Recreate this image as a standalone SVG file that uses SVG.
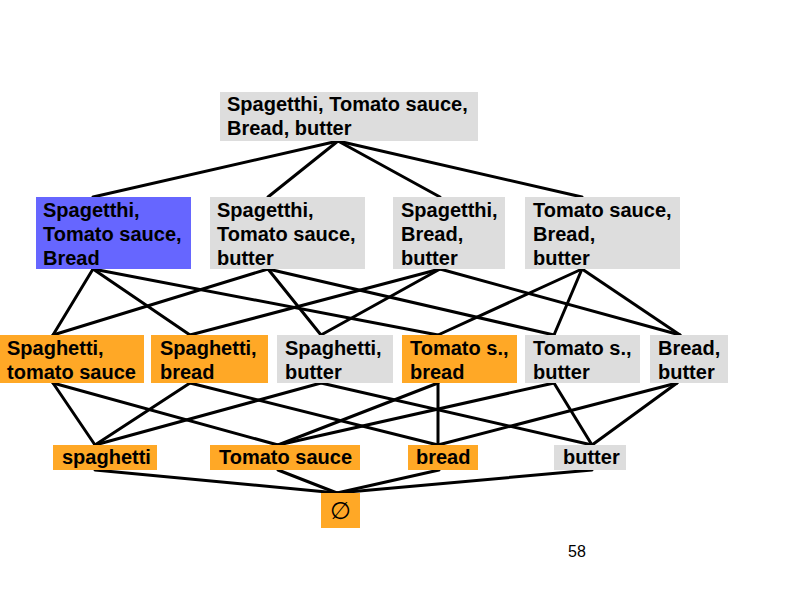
<svg xmlns="http://www.w3.org/2000/svg" width="794" height="595" viewBox="0 0 794 595">
<style>
.g{fill:#DDDDDD}
.o{fill:#FFA826}
.b{fill:#6666FF}
text{font-family:"Liberation Sans",Arial,sans-serif;font-weight:bold;font-size:20px;fill:#000}
.e line{stroke:#000;stroke-width:3;stroke-linecap:round}
</style>
<rect width="794" height="595" fill="#fff"/>
<g class="e" id="connectors">
<line x1="338" y1="141" x2="93" y2="197"/>
<line x1="338" y1="141" x2="268" y2="197"/>
<line x1="338" y1="141" x2="440" y2="197"/>
<line x1="338" y1="141" x2="582" y2="197"/>
<line x1="93" y1="269" x2="53" y2="335"/>
<line x1="93" y1="269" x2="190" y2="335"/>
<line x1="93" y1="269" x2="438" y2="335"/>
<line x1="268" y1="269" x2="53" y2="335"/>
<line x1="268" y1="269" x2="321" y2="335"/>
<line x1="268" y1="269" x2="554" y2="335"/>
<line x1="440" y1="269" x2="190" y2="335"/>
<line x1="440" y1="269" x2="321" y2="335"/>
<line x1="440" y1="269" x2="680" y2="335"/>
<line x1="582" y1="269" x2="438" y2="335"/>
<line x1="582" y1="269" x2="554" y2="335"/>
<line x1="582" y1="269" x2="680" y2="335"/>
<line x1="53" y1="383" x2="95" y2="445"/>
<line x1="53" y1="383" x2="278" y2="445"/>
<line x1="190" y1="383" x2="95" y2="445"/>
<line x1="190" y1="383" x2="438" y2="445"/>
<line x1="321" y1="383" x2="95" y2="445"/>
<line x1="321" y1="383" x2="592" y2="445"/>
<line x1="438" y1="383" x2="278" y2="445"/>
<line x1="438" y1="383" x2="438" y2="445"/>
<line x1="554" y1="383" x2="278" y2="445"/>
<line x1="554" y1="383" x2="592" y2="445"/>
<line x1="677" y1="383" x2="438" y2="445"/>
<line x1="677" y1="383" x2="592" y2="445"/>
<line x1="95" y1="470" x2="337" y2="493"/>
<line x1="278" y1="470" x2="337" y2="493"/>
<line x1="439" y1="470" x2="337" y2="493"/>
<line x1="592" y1="470" x2="337" y2="493"/>
</g>
<g id="top"><rect class="g" x="220" y="92" width="258" height="49"/><text x="227" y="111">Spagetthi, Tomato sauce,</text><text x="227" y="135">Bread, butter</text></g>
<g id="stb"><rect class="b" x="36" y="197" width="155" height="72"/><text x="43" y="217">Spagetthi,</text><text x="43" y="241">Tomato sauce,</text><text x="43" y="265">Bread</text></g>
<g id="stu"><rect class="g" x="210" y="197" width="155" height="72"/><text x="217" y="217">Spagetthi,</text><text x="217" y="241">Tomato sauce,</text><text x="217" y="265">butter</text></g>
<g id="sbu"><rect class="g" x="393" y="197" width="112" height="72"/><text x="401" y="217">Spagetthi,</text><text x="401" y="241">Bread,</text><text x="401" y="265">butter</text></g>
<g id="tbu"><rect class="g" x="525" y="197" width="155" height="72"/><text x="533" y="217">Tomato sauce,</text><text x="533" y="241">Bread,</text><text x="533" y="265">butter</text></g>
<g id="st"><rect class="o" x="0" y="335" width="144" height="48"/><text x="7" y="355">Spaghetti,</text><text x="7" y="379">tomato sauce</text></g>
<g id="sb"><rect class="o" x="151" y="335" width="117" height="48"/><text x="160" y="355">Spaghetti,</text><text x="160" y="379">bread</text></g>
<g id="su"><rect class="g" x="277" y="335" width="116" height="48"/><text x="285" y="355">Spaghetti,</text><text x="285" y="379">butter</text></g>
<g id="tb"><rect class="o" x="402" y="335" width="115" height="48"/><text x="410" y="355">Tomato s.,</text><text x="410" y="379">bread</text></g>
<g id="tu"><rect class="g" x="525" y="335" width="115" height="48"/><text x="533" y="355">Tomato s.,</text><text x="533" y="379">butter</text></g>
<g id="bu"><rect class="g" x="650" y="335" width="78" height="48"/><text x="658" y="355">Bread,</text><text x="658" y="379">butter</text></g>
<g id="s"><rect class="o" x="53" y="445" width="104" height="25"/><text x="62" y="464">spaghetti</text></g>
<g id="t"><rect class="o" x="210" y="445" width="150" height="25"/><text x="219" y="464">Tomato sauce</text></g>
<g id="b"><rect class="o" x="408" y="445" width="70" height="25"/><text x="416" y="464">bread</text></g>
<g id="u"><rect class="g" x="554" y="445" width="72" height="25"/><text x="563" y="464">butter</text></g>
<g id="empty"><rect class="o" x="321" y="493" width="39" height="35"/><text x="340.5" y="519" text-anchor="middle" style="font-family:'DejaVu Sans',sans-serif;font-weight:normal;font-size:24px">∅</text></g>
<text x="568" y="557" style="font-weight:normal;font-size:16px">58</text>
</svg>
